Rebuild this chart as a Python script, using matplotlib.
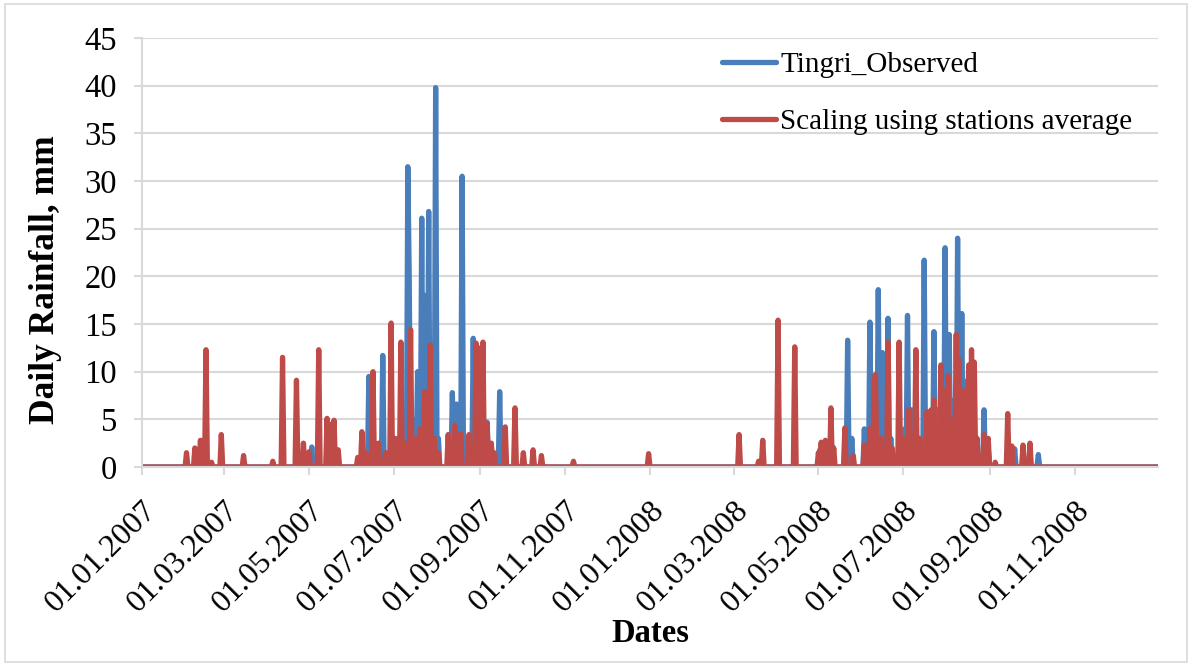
import numpy as np
import pandas as pd
import matplotlib
matplotlib.use('Agg')
import matplotlib.pyplot as plt
import matplotlib.dates as mdates
from matplotlib.patches import Rectangle


# ══════════════════════════════════════════════
# DATA  (day index counted from 01.01.2007, rainfall in mm)
# ══════════════════════════════════════════════

START_DATE = '2007-01-01'
END_DATE   = '2008-12-31'

obs_label = 'Tingri_Observed'
sim_label = 'Scaling using stations average'

obs_day = [122, 163, 165, 173, 175, 185, 191, 192, 195, 198, 201, 203, 204,
           206, 208, 209, 211, 213, 223, 226, 227, 230, 238, 240, 244, 248,
           252, 257,
           487, 507, 510, 519, 523, 525, 529, 531, 532, 536, 538, 548, 550,
           553, 562, 565, 569, 571, 575, 577, 580, 583, 586, 589, 591, 595,
           605, 608, 627, 644]
obs_mm  = [2.1, 9.5, 2.0, 11.7, 1.5, 3.0, 31.5, 20.0, 5.0, 10.0, 26.1, 18.0, 8.0,
           26.8, 10.0, 3.0, 39.8, 3.0, 7.8, 6.6, 3.0, 30.5, 13.5, 4.0, 2.0, 4.7,
           1.5, 7.9,
           1.8, 13.3, 3.0, 4.0, 15.2, 5.0, 18.6, 8.0, 12.0, 15.6, 3.0, 4.0, 15.9,
           6.0, 21.7, 5.0, 14.2, 6.0, 8.0, 23.0, 13.9, 7.0, 24.0, 16.1, 9.0, 5.0,
           6.0, 2.0, 1.9, 1.3]

sim_day = [32, 38, 42, 46, 50, 57, 73, 94, 101, 111, 116, 120, 127, 133, 136,
           138, 141, 155, 158, 161, 166, 170, 175, 179, 182, 186, 189, 193, 197,
           200, 203, 207, 210, 213, 220, 222, 225, 229, 235, 238, 240, 243, 245,
           248, 251, 253, 261, 268, 274, 281, 287, 310,
           364, 429, 443, 446, 457, 469, 486, 488, 491, 495, 497, 505, 511, 519,
           523, 526, 527, 531, 536, 539, 544, 547, 551, 554, 556, 559, 564, 567,
           569, 572, 574, 577, 579, 582, 585, 587, 590, 593, 594, 596, 598, 600,
           605, 608, 613, 622, 625, 633, 638]
sim_mm  = [1.5, 2.0, 2.8, 12.3, 0.5, 3.4, 1.2, 0.6, 11.5, 9.1, 2.5, 1.6, 12.3, 5.1, 4.5,
           4.9, 1.8, 1.0, 3.7, 1.5, 10.0, 2.5, 1.5, 15.1, 3.0, 13.1, 2.5, 14.4, 3.0,
           4.0, 7.9, 12.8, 3.0, 1.5, 3.4, 2.5, 4.4, 3.5, 3.4, 2.0, 13.0, 12.5, 13.1,
           4.5, 2.5, 1.5, 4.2, 6.2, 1.5, 1.8, 1.2, 0.6,
           1.4, 3.4, 0.6, 2.8, 15.4, 12.6, 1.5, 2.6, 2.8, 6.2, 2.0, 4.1, 1.2, 2.3,
           4.0, 9.1, 9.7, 3.0, 13.1, 2.0, 13.1, 3.0, 6.0, 2.0, 12.3, 3.0, 5.8, 6.0,
           7.0, 4.0, 10.7, 8.0, 9.6, 5.0, 13.9, 11.2, 8.0, 4.0, 10.7, 12.3, 11.0, 3.0,
           3.4, 3.0, 0.5, 5.6, 2.2, 2.3, 2.5]

y_ticks = [0, 5, 10, 15, 20, 25, 30, 35, 40, 45]


# ══════════════════════════════════════════════
# PLOT
# ══════════════════════════════════════════════

plt.rcParams['font.family'] = ['Liberation Serif', 'DejaVu Serif']

dates = pd.date_range(START_DATE, END_DATE, freq='D')
obs = np.zeros(len(dates))
sim = np.zeros(len(dates))
obs[obs_day] = obs_mm
sim[sim_day] = sim_mm

BLUE = '#4A7EBB'
RED  = '#BE4B48'
GRID = '#D9D9D9'

fig = plt.figure(figsize=(11.92, 6.66), dpi=100)
ax = fig.add_axes([0.1191, 0.2988, 0.8524, 0.6441])

line_kw = dict(linewidth=3.8, solid_joinstyle='round', solid_capstyle='round')
ax.plot(dates, obs, color=BLUE, label=obs_label, **line_kw)
ax.plot(dates, sim, color=RED,  label=sim_label, **line_kw)

ax.set_xlim(dates[0], dates[-1])
ax.set_ylim(0, 45)
ax.set_yticks(y_ticks)

ax.xaxis.set_major_locator(mdates.MonthLocator(bymonth=[1, 3, 5, 7, 9, 11]))
ax.xaxis.set_major_formatter(mdates.DateFormatter('%d.%m.%Y'))
for lbl in ax.get_xticklabels():
    lbl.set_rotation(45)
    lbl.set_ha('right')
    lbl.set_rotation_mode('anchor')

ax.tick_params(axis='x', labelsize=23, length=6, width=1.5, color=GRID, pad=15)
ax.tick_params(axis='y', labelsize=23.5, length=6, width=1.5, color=GRID, pad=12)

ax.grid(axis='y', color=GRID, linewidth=1.5)
ax.set_axisbelow(True)
for side in ['top', 'right']:
    ax.spines[side].set_visible(False)
for side in ['left', 'bottom']:
    ax.spines[side].set_color(GRID)
    ax.spines[side].set_linewidth(1.5)

ax.set_ylabel('Daily Rainfall, mm', fontsize=25.5, fontweight='bold')
ax.yaxis.set_label_coords(-0.079, 0.436)
ax.set_xlabel('Dates', fontsize=23.5, fontweight='bold', labelpad=0)

ax.legend(loc='upper left', bbox_to_anchor=(0.545, 1.03), frameon=False,
          fontsize=21, handlelength=1.85, handletextpad=0.15, labelspacing=1.05)

# light frame round the whole chart
fig.patches.append(Rectangle((0.004, 0.006), 0.992, 0.988, transform=fig.transFigure,
                             fill=False, edgecolor=GRID, linewidth=1.2))

fig.savefig('out.png', dpi=100)
